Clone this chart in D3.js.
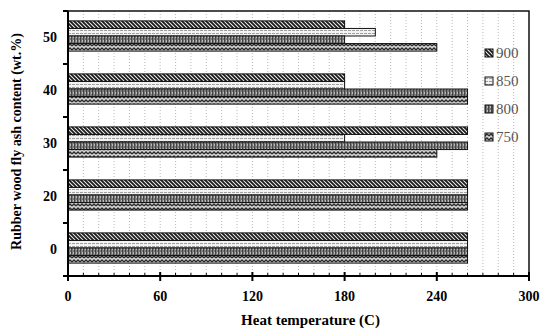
<!DOCTYPE html>
<html>
<head>
<meta charset="utf-8">
<script src="https://cdn.jsdelivr.net/npm/d3@7"></script>
<style>
  body { margin: 0; background: #fff; }
  svg { display: block; font-family: "Liberation Serif", "Times New Roman", serif; }
</style>
</head>
<body>
<div id="chart"></div>
<script>
// categories (top to bottom) and series
const categories = ["50", "40", "30", "20", "0"];
const seriesKeys = ["900", "850", "800", "750"];
const s900 = [180, 180, 260, 260, 260];
const s850 = [200, 180, 180, 260, 260];
const s800 = [180, 260, 260, 260, 260];
const s750 = [240, 260, 240, 260, 260];
const xTicks = [0, 60, 120, 180, 240, 300];

const seriesValues = { "900": s900, "850": s850, "800": s800, "750": s750 };

const svgWidth = 544, svgHeight = 334;
const margin = { top: 11, right: 15, bottom: 58, left: 68 };
const width = svgWidth - margin.left - margin.right;
const height = svgHeight - margin.top - margin.bottom;

const svg = d3.select("#chart").append("svg")
    .attr("width", svgWidth)
    .attr("height", svgHeight);

// patterns for the bars
const defs = svg.append("defs");

function pattern(id, w, h, build) {
    const p = defs.append("pattern")
        .attr("id", id)
        .attr("patternUnits", "userSpaceOnUse")
        .attr("width", w).attr("height", h);
    build(p);
}

// 900: dark wide diagonal stripes
pattern("p900", 4, 4, p => {
    p.append("rect").attr("width", 4).attr("height", 4).attr("fill", "#eee");
    p.append("path").attr("d", "M-1,-1 L5,5 M-1,3 L1,5 M3,-1 L5,1")
        .attr("stroke", "#1a1a1a").attr("stroke-width", 1.8);
});
// 850: light, dashed horizontal
pattern("p850", 4, 3, p => {
    p.append("rect").attr("width", 4).attr("height", 3).attr("fill", "#f2f2f2");
    p.append("rect").attr("x", 0).attr("y", 1).attr("width", 3).attr("height", 1).attr("fill", "#a0a0a0");
});
// 800: gray with vertical lines
pattern("p800", 3, 4, p => {
    p.append("rect").attr("width", 3).attr("height", 4).attr("fill", "#7a7a7a");
    p.append("rect").attr("x", 0).attr("y", 0).attr("width", 1).attr("height", 4).attr("fill", "#444");
    p.append("rect").attr("x", 2).attr("y", 1).attr("width", 1).attr("height", 2).attr("fill", "#bbb");
});
// 750: zigzag weave
pattern("p750", 4, 4, p => {
    p.append("rect").attr("width", 4).attr("height", 4).attr("fill", "#d4d4d4");
    p.append("path").attr("d", "M0,3 L2,1 L4,3")
        .attr("fill", "none").attr("stroke", "#2a2a2a").attr("stroke-width", 1.3);
});

const g = svg.append("g")
    .attr("transform", `translate(${margin.left},${margin.top})`);

// scales
const xScale = d3.scaleLinear().domain([0, 300]).range([0, width]);

const yScale = d3.scaleBand()
    .domain(categories)
    .range([0, height])
    .paddingInner(0.43)
    .paddingOuter(0.215);

const yInner = d3.scaleBand()
    .domain(seriesKeys)
    .range([0, yScale.bandwidth()]);

// dotted gridlines every 10
g.append("g")
    .selectAll("line")
    .data(d3.range(10, 300, 10))
    .enter().append("line")
    .attr("x1", d => xScale(d)).attr("x2", d => xScale(d))
    .attr("y1", 0).attr("y2", height)
    .attr("stroke", "#b8b8b8")
    .attr("stroke-width", 1)
    .attr("stroke-dasharray", "1,2");

// bars
const rows = [];
categories.forEach((c, i) => {
    seriesKeys.forEach(k => rows.push({ cat: c, key: k, value: seriesValues[k][i] }));
});

g.selectAll(".bar")
    .data(rows)
    .enter().append("rect")
    .attr("class", "bar")
    .attr("x", xScale(0))
    .attr("y", d => yScale(d.cat) + yInner(d.key) - 1.5)
    .attr("width", d => xScale(d.value) - xScale(0))
    .attr("height", yInner.bandwidth())
    .attr("fill", d => `url(#p${d.key})`)
    .attr("stroke", "#111")
    .attr("stroke-width", 1);

// frame (top and right)
g.append("path")
    .attr("d", `M0,0 H${width} V${height}`)
    .attr("fill", "none")
    .attr("stroke", "#111")
    .attr("stroke-width", 1.5);

// x axis
const xAxis = g.append("g")
    .attr("transform", `translate(0,${height})`);

xAxis.append("line")
    .attr("x1", 0).attr("x2", width)
    .attr("stroke", "#000").attr("stroke-width", 2);

xAxis.selectAll(".minor")
    .data(d3.range(10, 300, 10))
    .enter().append("line")
    .attr("x1", d => xScale(d)).attr("x2", d => xScale(d))
    .attr("y1", 0).attr("y2", -3)
    .attr("stroke", "#000").attr("stroke-width", 1);

xAxis.selectAll(".major")
    .data(xTicks)
    .enter().append("line")
    .attr("x1", d => xScale(d)).attr("x2", d => xScale(d))
    .attr("y1", -4).attr("y2", 5)
    .attr("stroke", "#000").attr("stroke-width", 2);

xAxis.selectAll(".xlabel")
    .data(xTicks)
    .enter().append("text")
    .attr("x", d => xScale(d))
    .attr("y", 25)
    .attr("text-anchor", "middle")
    .attr("font-size", 14)
    .attr("font-weight", "bold")
    .text(d => d);

// y axis
const yAxis = g.append("g");

yAxis.append("line")
    .attr("x1", 0).attr("x2", 0)
    .attr("y1", 0).attr("y2", height)
    .attr("stroke", "#000").attr("stroke-width", 2);

const step = yScale.step();
const yTickPos = categories.map(c => yScale(c) - step * 0.215);
yTickPos.push(height);

yAxis.selectAll(".ytick")
    .data(yTickPos)
    .enter().append("line")
    .attr("x1", -5).attr("x2", 0)
    .attr("y1", d => d).attr("y2", d => d)
    .attr("stroke", "#000").attr("stroke-width", 2);

yAxis.selectAll(".ylabel")
    .data(categories)
    .enter().append("text")
    .attr("x", -11)
    .attr("y", d => yScale(d) + yScale.bandwidth() / 2)
    .attr("dy", "0.35em")
    .attr("text-anchor", "end")
    .attr("font-size", 14)
    .attr("font-weight", "bold")
    .text(d => d);

// axis titles
svg.append("text")
    .attr("x", margin.left + width / 2 + 12)
    .attr("y", 325)
    .attr("text-anchor", "middle")
    .attr("font-size", 15)
    .attr("font-weight", "bold")
    .text("Heat temperature (C)");

svg.append("text")
    .attr("transform", `translate(21,${margin.top + height / 2 - 2}) rotate(-90)`)
    .attr("text-anchor", "middle")
    .attr("font-size", 14)
    .attr("font-weight", "bold")
    .text("Rubber wood fly ash content (wt.%)");

// legend
const legend = svg.append("g")
    .attr("transform", "translate(485,49)");

const item = legend.selectAll(".item")
    .data(seriesKeys)
    .enter().append("g")
    .attr("transform", (d, i) => `translate(0,${i * 28})`);

item.append("rect")
    .attr("width", 8).attr("height", 8)
    .attr("fill", d => `url(#p${d})`)
    .attr("stroke", "#111").attr("stroke-width", 1);

item.append("text")
    .attr("x", 11)
    .attr("y", 4)
    .attr("dy", "0.35em")
    .attr("font-size", 15)
    .attr("fill", "#555")
    .text(d => d);
</script>
</body>
</html>
